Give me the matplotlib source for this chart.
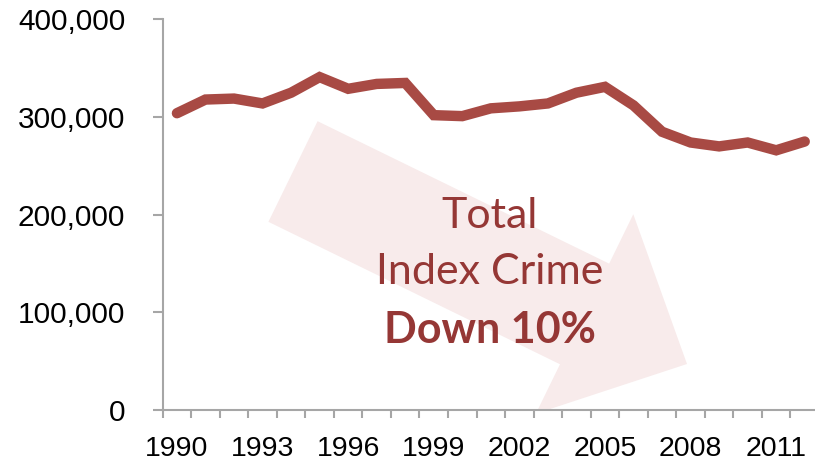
import matplotlib
matplotlib.use("Agg")
import matplotlib.pyplot as plt
import matplotlib.transforms as mtransforms
from matplotlib.patches import FancyArrow
from matplotlib.ticker import FuncFormatter, FixedLocator

# Total index crime by year
years = list(range(1990, 2013))
crimes = [304000, 318000, 319000, 314000, 325000, 341000, 329000, 334000, 335000,
          302000, 301000, 309000, 311000, 314000, 325000, 331000, 312000, 285000,
          274000, 270000, 274000, 266000, 275000]
y_ticks = [0, 100000, 200000, 300000, 400000]
label_years = years[::3]
note_lines = ["Total", "Index Crime", "Down 10%"]

LINE_COLOR = "#A84A44"
TEXT_COLOR = "#953735"
ARROW_COLOR = "#F8EBEB"
AXIS_COLOR = "#A6A6A6"

fig = plt.figure(figsize=(8.15, 4.63), dpi=100)
ax = fig.add_axes([0.1996, 0.1145, 0.8053, 0.8434])

# pixel coordinates (origin top-left) for decorations
px = mtransforms.Affine2D().scale(1 / 100, -1 / 100).translate(0, 4.63) + fig.dpi_scale_trans

# big pale arrow behind the line
arrow = FancyArrow(293, 171.5, 394, 192.5, width=112, head_width=222, head_length=114,
                   length_includes_head=True, color=ARROW_COLOR, lw=0,
                   transform=px, zorder=0)
arrow.set_clip_path(ax.patch)
ax.add_patch(arrow)

x = list(range(len(years)))
ax.plot(x, crimes, color=LINE_COLOR, lw=7.5, solid_capstyle="round",
        solid_joinstyle="miter", zorder=3)

ax.set_xlim(-0.5, len(years) - 0.5)
ax.set_ylim(0, 400000)

for s in ["top", "right"]:
    ax.spines[s].set_visible(False)
for s in ["left", "bottom"]:
    ax.spines[s].set_color(AXIS_COLOR)
    ax.spines[s].set_linewidth(1.5)

ax.set_yticks(y_ticks)
ax.yaxis.set_major_formatter(FuncFormatter(lambda v, p: f"{int(v):,}"))
ax.tick_params(axis="y", length=7, width=1.5, color=AXIS_COLOR, pad=20,
               labelsize=21.5, labelcolor="black")

# ticks between categories, labels every third year
ax.xaxis.set_minor_locator(FixedLocator([i - 0.5 for i in range(len(years) + 1)]))
ax.set_xticks([years.index(y) for y in label_years])
ax.set_xticklabels([str(y) for y in label_years])
ax.tick_params(axis="x", which="major", length=0, pad=19, labelsize=20.5, labelcolor="black")
ax.tick_params(axis="x", which="minor", length=6, width=1.5, color=AXIS_COLOR)

for lab in ax.get_xticklabels() + ax.get_yticklabels():
    lab.set_family("Liberation Sans")

ax.text(490, 228, note_lines[0], transform=px, ha="center", va="baseline",
        fontsize=31, color=TEXT_COLOR, family="Lato", zorder=4)
ax.text(490, 284, note_lines[1], transform=px, ha="center", va="baseline",
        fontsize=31, color=TEXT_COLOR, family="Lato", zorder=4)
ax.text(490, 343, note_lines[2], transform=px, ha="center", va="baseline",
        fontsize=31, fontweight="bold", color=TEXT_COLOR, family="Lato", zorder=4)

fig.savefig("out.png", dpi=100)
